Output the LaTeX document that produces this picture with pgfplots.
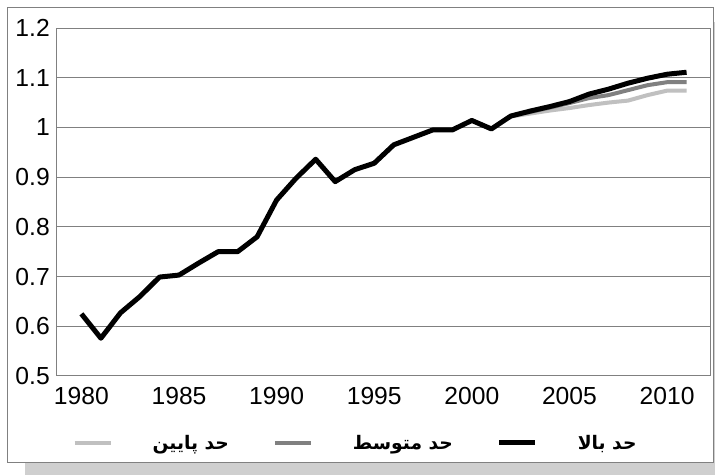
\documentclass[border=0pt]{standalone}
\usepackage{pgfplots}
\pgfplotsset{compat=1.18}
\usepackage{fontspec}
\setmainfont{Liberation Sans}
\newfontfamily\arabicfont[Script=Arabic]{DejaVu Sans}
\TeXXeTstate=1
\definecolor{lowc}{HTML}{C0C0C0}
\definecolor{midc}{HTML}{808080}
\definecolor{framec}{HTML}{808080}
\definecolor{shadowc}{HTML}{CFCFCF}
\pgfplotstableread{
year val
1980 0.625
1981 0.576
1982 0.627
1983 0.660
1984 0.699
1985 0.703
1986 0.727
1987 0.750
1988 0.750
1989 0.780
1990 0.854
1991 0.898
1992 0.936
1993 0.891
1994 0.915
1995 0.928
1996 0.965
1997 0.980
1998 0.995
1999 0.995
2000 1.014
2001 0.997
2002 1.023
2003 1.033
2004 1.042
2005 1.052
2006 1.067
2007 1.077
2008 1.089
2009 1.099
2010 1.107
2011 1.111
}\highdata
\pgfplotstableread{
year val
2002 1.023
2003 1.031
2004 1.040
2005 1.049
2006 1.059
2007 1.065
2008 1.075
2009 1.085
2010 1.091
2011 1.091
}\middata
\pgfplotstableread{
year val
2002 1.022
2003 1.028
2004 1.034
2005 1.039
2006 1.045
2007 1.050
2008 1.054
2009 1.065
2010 1.074
2011 1.074
}\lowdata
\begin{document}
\begin{tikzpicture}
\useasboundingbox (0,0) rectangle (536.25pt,356.25pt);
\fill[shadowc] (18.75pt,0pt) rectangle (536.25pt,340pt);
\filldraw[fill=white, draw=framec, line width=0.75pt] (5.25pt,9pt) rectangle (534.75pt,350.25pt);
\begin{axis}[
  at={(42.75pt,74.25pt)}, anchor=south west,
  scale only axis, width=490.5pt, height=261pt,
  xmin=1978.75, xmax=2012.25,
  ymin=0.5, ymax=1.2,
  xtick={1980,1985,...,2010},
  ytick={0.5,0.6,...,1.21},
  major tick length=0pt,
  axis line style={draw=framec, line width=0.75pt},
  ymajorgrids, grid style={draw=framec, line width=0.75pt},
  /pgf/number format/assume math mode=true,
  tick label style={font=\fontsize{18.5}{20}\selectfont, inner sep=0pt},
  yticklabel style={/pgf/number format/fixed, /pgf/number format/precision=1, xshift=-5.25pt},
  xticklabel style={/pgf/number format/1000 sep={}, yshift=-8.25pt},
  legend columns=3,
  legend image code/.code={\draw[#1] (0pt,0pt) -- (27pt,0pt);},
  legend style={at={(0.455,-0.1925)}, anchor=center, draw=none, fill=none,
    font=\arabicfont\bfseries\fontsize{14}{16}\selectfont,
    nodes={inner sep=0pt},
    /tikz/every odd column/.append style={column sep=30pt},
    /tikz/every even column/.append style={column sep=33pt}},
]
\addplot[color=lowc, line width=3pt, line join=round] table[x=year,y=val] {\lowdata};
\addlegendentry{\beginR حد پایین\endR}
\addplot[color=midc, line width=3pt, line join=round] table[x=year,y=val] {\middata};
\addlegendentry{\beginR حد متوسط\endR}
\addplot[color=black, line width=3.75pt, line join=round] table[x=year,y=val] {\highdata};
\addlegendentry{\beginR حد بالا\endR}
\end{axis}
\end{tikzpicture}
\end{document}
